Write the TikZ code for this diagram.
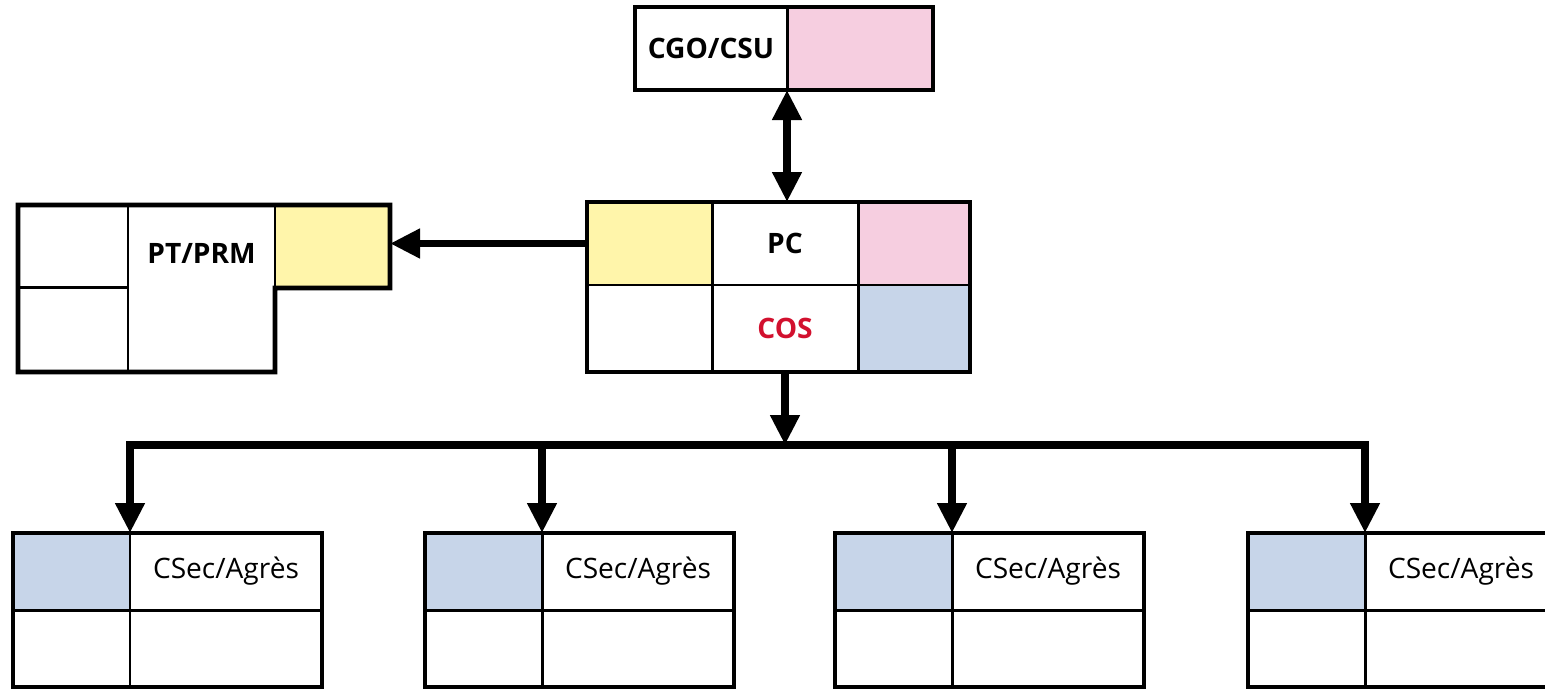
\documentclass[tikz,border=0pt]{standalone}
\usepackage{fontspec}
\setmainfont{Open Sans}
\usetikzlibrary{arrows.meta,calc}
\definecolor{cellpink}{RGB}{246,206,224}
\definecolor{cellyellow}{RGB}{255,245,170}
\definecolor{cellblue}{RGB}{199,213,233}
\definecolor{cosred}{RGB}{210,16,46}

\begin{document}
\begin{tikzpicture}[
  cell/.style={draw, line width=0.85pt, anchor=north west, inner sep=0pt, outer sep=0pt, font=\fontsize{8}{10}\selectfont},
  boldcell/.style={cell, font=\fontsize{8}{10}\selectfont\bfseries},
  frame/.style={line width=1.3pt},
  conn/.style={line width=2.2pt, -{Triangle[width=0.28cm,length=0.3cm]}},
]
\useasboundingbox (0,0) rectangle (15.45,-6.9);

% CGO/CSU at the top
\node[boldcell, minimum width=1.52cm, minimum height=0.83cm] (cgoA) at (6.35,-0.07) {CGO/CSU};
\node[cell, fill=cellpink, minimum width=1.46cm, minimum height=0.83cm] (cgoB) at (7.87,-0.07) {};
\draw[frame] (cgoA.north west) rectangle (cgoB.south east);

% PC / COS
\node[cell, fill=cellyellow, minimum width=1.25cm, minimum height=0.83cm] (pcA) at (5.87,-2.02) {};
\node[boldcell, minimum width=1.46cm, minimum height=0.83cm] (pcB) at (7.12,-2.02) {PC};
\node[cell, fill=cellpink, minimum width=1.12cm, minimum height=0.83cm] (pcC) at (8.58,-2.02) {};
\node[cell, minimum width=1.25cm, minimum height=0.87cm] (pcD) at (5.87,-2.85) {};
\node[boldcell, text=cosred, minimum width=1.46cm, minimum height=0.87cm] (pcE) at (7.12,-2.85) {COS};
\node[cell, fill=cellblue, minimum width=1.12cm, minimum height=0.87cm] (pcF) at (8.58,-2.85) {};
\draw[frame] (pcA.north west) rectangle (pcF.south east);

% PT/PRM
\node[cell, minimum width=1.10cm, minimum height=0.82cm] (ptA) at (0.18,-2.05) {};
\node[cell, minimum width=1.10cm, minimum height=0.85cm] (ptB) at (0.18,-2.87) {};
\node[cell, minimum width=1.47cm, minimum height=1.67cm] (ptC) at (1.28,-2.05) {};
\node[cell, fill=cellyellow, minimum width=1.15cm, minimum height=0.83cm] (ptD) at (2.75,-2.05) {};
\node[font=\fontsize{8}{10}\selectfont\bfseries] (ptText) at (2.015,-2.53) {PT/PRM};
\draw[frame] (ptA.north west) -- (ptD.north east) -- (ptD.south east) -- (ptD.south west)
  -- (ptC.south east) -- (ptB.south west) -- cycle;

% CSec/Agres boxes
\foreach \i/\x in {1/0.13,2/4.25,3/8.35,4/12.48} {
  \node[cell, fill=cellblue, minimum width=1.17cm, minimum height=0.77cm] (sec\i-a) at (\x,-5.33) {};
  \node[cell, minimum width=1.92cm, minimum height=0.77cm] (sec\i-b) at (sec\i-a.north east) {CSec/Agrès};
  \node[cell, minimum width=1.17cm, minimum height=0.77cm] (sec\i-c) at (sec\i-a.south west) {};
  \node[cell, minimum width=1.92cm, minimum height=0.77cm] (sec\i-d) at (sec\i-a.south east) {};
  \draw[frame] (sec\i-a.north west) rectangle (sec\i-d.south east);
}

% connectors
\draw[conn, {Triangle[width=0.28cm,length=0.3cm]}-{Triangle[width=0.28cm,length=0.3cm]}] (cgoA.south east) -- (cgoA.south east |- pcB.north);
\draw[conn] (pcA.west) -- (pcA.west -| ptD.east);
\coordinate (bus) at ($(pcE.south)+(0,-0.73)$);
\draw[conn] (pcE.south) -- (bus);
\draw[line width=2.2pt, line cap=rect] (sec1-a.north east |- bus) -- (sec4-a.north east |- bus);
\foreach \i in {1,2,3,4}
  \draw[conn] (sec\i-a.north east |- bus) -- (sec\i-a.north east);
\end{tikzpicture}
\end{document}
